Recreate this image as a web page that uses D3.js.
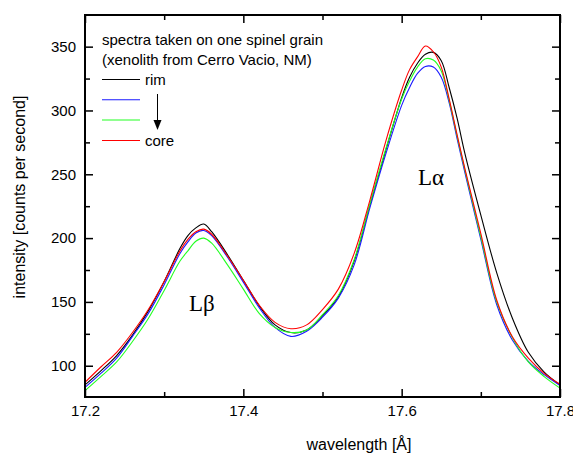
<!DOCTYPE html>
<html>
<head>
<meta charset="utf-8">
<script src="https://cdn.jsdelivr.net/npm/d3@7"></script>
<style>
  body { margin: 0; background: #fff; }
  svg { display: block; font-family: "Liberation Sans", Arial, sans-serif; }
</style>
</head>
<body>
<svg id="chart" width="573" height="455"></svg>
<script>
// wavelength grid (Å)
const wavelength = [17.20, 17.22, 17.24, 17.26, 17.28, 17.30, 17.32, 17.33, 17.34, 17.35,
  17.36, 17.38, 17.40, 17.42, 17.44, 17.46, 17.48, 17.50, 17.52, 17.54,
  17.56, 17.58, 17.60, 17.61, 17.62, 17.63, 17.64, 17.65, 17.66, 17.67,
  17.68, 17.70, 17.72, 17.74, 17.76, 17.78, 17.80];

// intensities (counts per second), rim -> core
const rim = [85, 96, 108, 124, 143, 166, 192, 202, 208, 211,
  205, 187, 167, 147, 132, 126, 128, 139, 154, 182,
  226, 269, 310, 326, 337, 344, 345.5, 339, 318, 294,
  266, 218, 173, 137, 110.5, 95, 85];
const spec2 = [83, 94, 106, 123, 141, 163.5, 188, 197, 204, 206,
  202, 185, 165.5, 145.5, 130, 123, 127, 138, 153, 179,
  224, 266, 304, 318, 329, 334.5, 334, 326, 306, 278,
  251, 199, 148, 120, 103.5, 93, 84.5];
const spec3 = [80.5, 91.5, 103, 119, 137, 159, 182, 190, 197.5, 200,
  196, 179, 160, 141, 130, 126, 128, 140, 155, 183,
  227, 270, 309, 323, 334, 340.5, 339.5, 331, 308, 280,
  253, 201, 150, 122, 103, 91.5, 82.5];
const core = [87, 99, 110.5, 126, 144, 166, 190, 199, 205, 207,
  203, 186, 167, 147.5, 134, 129, 132, 144, 160, 188,
  230, 276, 316, 332, 342, 350.5, 346, 334, 309, 281,
  254, 203.5, 151.5, 122.5, 106, 94, 85.5];

const seriesNames = ['rim', '', '', 'core'];
const seriesColors = ['#000000', '#1a1aff', '#22ff22', '#ff0000'];
const seriesValues = [rim, spec2, spec3, core];

const xMajor = [17.2, 17.4, 17.6, 17.8];
const xMinor = [17.3, 17.5, 17.7];
const yMajor = [100, 150, 200, 250, 300, 350];
const yMinor = [125, 175, 225, 275, 325];

const svg = d3.select('#chart');
const plotLeft = 85, plotRight = 560, plotTop = 15, plotBottom = 397;

const x = d3.scaleLinear().domain([17.2, 17.8]).range([plotLeft, plotRight]);
const y = d3.scaleLinear().domain([75.5, 374.8]).range([plotBottom, plotTop]);

// clip for the spectra
svg.append('clipPath').attr('id', 'plot-clip')
  .append('rect')
  .attr('x', plotLeft).attr('y', plotTop)
  .attr('width', plotRight - plotLeft).attr('height', plotBottom - plotTop);

// spectra
const line = d3.line()
  .x((d, i) => x(wavelength[i]))
  .y(d => y(d))
  .curve(d3.curveCatmullRom);

const lines = svg.append('g').attr('clip-path', 'url(#plot-clip)');
seriesValues.forEach((vals, i) => {
  lines.append('path')
    .attr('d', line(vals))
    .attr('fill', 'none')
    .attr('stroke', seriesColors[i])
    .attr('stroke-width', 1.1);
});

// axes: ticks pointing inward
function styleAxis(g) {
  g.select('.domain').remove();
  g.selectAll('line').attr('stroke', '#000').attr('stroke-width', 1.5);
  g.selectAll('text').attr('font-size', 15).attr('fill', '#000')
    .attr('font-family', '"Liberation Sans", Arial, sans-serif');
}

svg.append('g').attr('transform', `translate(0,${plotBottom})`)
  .call(d3.axisBottom(x).tickValues(xMajor).tickSizeInner(-8).tickPadding(8).tickFormat(d3.format('.1f')))
  .call(styleAxis);
svg.append('g').attr('transform', `translate(0,${plotBottom})`)
  .call(d3.axisBottom(x).tickValues(xMinor).tickSizeInner(-5).tickFormat(''))
  .call(styleAxis);
svg.append('g').attr('transform', `translate(0,${plotTop})`)
  .call(d3.axisTop(x).tickValues(xMajor).tickSizeInner(-8).tickFormat(''))
  .call(styleAxis);
svg.append('g').attr('transform', `translate(0,${plotTop})`)
  .call(d3.axisTop(x).tickValues(xMinor).tickSizeInner(-5).tickFormat(''))
  .call(styleAxis);

svg.append('g').attr('transform', `translate(${plotLeft},0)`)
  .call(d3.axisLeft(y).tickValues(yMajor).tickSizeInner(-8).tickPadding(9))
  .call(styleAxis);
svg.append('g').attr('transform', `translate(${plotLeft},0)`)
  .call(d3.axisLeft(y).tickValues(yMinor).tickSizeInner(-5).tickFormat(''))
  .call(styleAxis);
svg.append('g').attr('transform', `translate(${plotRight},0)`)
  .call(d3.axisRight(y).tickValues(yMajor).tickSizeInner(-8).tickFormat(''))
  .call(styleAxis);
svg.append('g').attr('transform', `translate(${plotRight},0)`)
  .call(d3.axisRight(y).tickValues(yMinor).tickSizeInner(-5).tickFormat(''))
  .call(styleAxis);

// frame
svg.append('rect')
  .attr('x', plotLeft).attr('y', plotTop)
  .attr('width', plotRight - plotLeft).attr('height', plotBottom - plotTop)
  .attr('fill', 'none').attr('stroke', '#000').attr('stroke-width', 2);

// axis titles
svg.append('text')
  .attr('x', 359).attr('y', 450)
  .attr('text-anchor', 'middle').attr('font-size', 16)
  .text('wavelength [Å]');
svg.append('text')
  .attr('transform', 'translate(25,197) rotate(-90)')
  .attr('text-anchor', 'middle').attr('font-size', 16)
  .text('intensity [counts per second]');

// legend
const legend = svg.append('g').attr('font-size', 15);
legend.append('text').attr('x', 102).attr('y', 45).text('spectra taken on one spinel grain');
legend.append('text').attr('x', 102).attr('y', 65).text('(xenolith from Cerro Vacio, NM)');
const legendY = [79.5, 99.7, 120, 140.5];
seriesColors.forEach((c, i) => {
  legend.append('line')
    .attr('x1', 102).attr('x2', 140)
    .attr('y1', legendY[i]).attr('y2', legendY[i])
    .attr('stroke', c).attr('stroke-width', 1.1);
  if (seriesNames[i]) {
    legend.append('text').attr('x', 145).attr('y', legendY[i] + 5).text(seriesNames[i]);
  }
});
// arrow rim -> core
legend.append('line')
  .attr('x1', 157.5).attr('x2', 157.5).attr('y1', 94).attr('y2', 122)
  .attr('stroke', '#000').attr('stroke-width', 1);
legend.append('path')
  .attr('d', 'M153.5,120 L161.5,120 L157.5,130 Z')
  .attr('fill', '#000');

// peak labels
svg.append('text')
  .attr('x', 418).attr('y', 185)
  .attr('font-family', '"Liberation Serif", "Times New Roman", serif')
  .attr('font-size', 23)
  .text('Lα');
svg.append('text')
  .attr('x', 189).attr('y', 311)
  .attr('font-family', '"Liberation Serif", "Times New Roman", serif')
  .attr('font-size', 23)
  .text('Lβ');
</script>
</body>
</html>
